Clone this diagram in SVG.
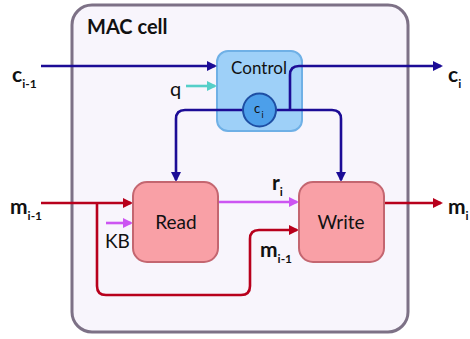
<svg xmlns="http://www.w3.org/2000/svg" width="470" height="339" viewBox="0 0 470 339">
<style>
.lbl{font-family:Lato,"Liberation Sans",sans-serif;font-weight:bold;fill:#111}
.sub{font-size:12px}
.big{font-size:21px}
.ntx{font-family:Lato,"Liberation Sans",sans-serif;fill:#111;text-anchor:middle}
.nv{fill:none;stroke:#1c0c96;stroke-width:2.6}
.rd{fill:none;stroke:#b8001c;stroke-width:2.6}
.mg{fill:none;stroke:#cc55f2;stroke-width:2.6}
.tl{fill:none;stroke:#55cfc8;stroke-width:2.6}
.rw{fill:#f9a0a6;stroke:#c46670;stroke-width:2}
</style>
<defs>
<marker id="aN" markerWidth="10" markerHeight="10" refX="8" refY="5" orient="auto" markerUnits="userSpaceOnUse"><path d="M0,0 L10,5 L0,10 z" fill="#1c0c96"/></marker>
<marker id="aR" markerWidth="10" markerHeight="10" refX="8" refY="5" orient="auto" markerUnits="userSpaceOnUse"><path d="M0,0 L10,5 L0,10 z" fill="#b8001c"/></marker>
<marker id="aM" markerWidth="10" markerHeight="10" refX="8" refY="5" orient="auto" markerUnits="userSpaceOnUse"><path d="M0,0 L10,5 L0,10 z" fill="#cc55f2"/></marker>
<marker id="aT" markerWidth="10" markerHeight="10" refX="8" refY="5" orient="auto" markerUnits="userSpaceOnUse"><path d="M0,0 L10,5 L0,10 z" fill="#55cfc8"/></marker>
</defs>
<g id="mac">
<rect x="72" y="5" width="336" height="327" rx="20" fill="#f8f5fc" stroke="#7d7186" stroke-width="3"/>
<text x="87" y="34" class="lbl" font-size="20">MAC cell</text>
</g>
<g id="control">
<rect x="217" y="51" width="85" height="80" rx="11" fill="#9ed0f8" stroke="#6fb0e6" stroke-width="2"/>
<text x="259" y="74" class="ntx" font-size="17">Control</text>
</g>
<g id="connectors">
<path class="nv" d="M41,66 H215" marker-end="url(#aN)"/>
<path class="tl" d="M186,86 H215" marker-end="url(#aT)"/>
<path class="nv" d="M243,110 H185 Q176,110 176,119 V180" marker-end="url(#aN)"/>
<path class="nv" d="M276,110 H332 Q341,110 341,119 V180" marker-end="url(#aN)"/>
<path class="nv" d="M290,110 V75 Q290,66 299,66 H441" marker-end="url(#aN)"/>
<path class="rd" d="M41,203 H131" marker-end="url(#aR)"/>
<path class="rd" d="M97,203 V286 Q97,295 106,295 H241 Q250,295 250,286 V239 Q250,230 259,230 H297" marker-end="url(#aR)"/>
<path class="mg" d="M106,223 H131" marker-end="url(#aM)"/>
<path class="mg" d="M218,202 H297" marker-end="url(#aM)"/>
<path class="rd" d="M384,203 H441" marker-end="url(#aR)"/>
</g>
<g id="ci-node">
<circle cx="259.5" cy="110" r="16.5" fill="#4c9fea" stroke="#1e4fa4" stroke-width="2"/>
<text x="257" y="113" class="ntx" font-size="13">c</text>
<text x="262.5" y="118" class="ntx" font-size="9">i</text>
</g>
<g id="read">
<rect class="rw" x="133" y="182" width="85" height="80" rx="14"/>
<text x="176" y="229" class="ntx" font-size="19">Read</text>
</g>
<g id="write">
<rect class="rw" x="299" y="182" width="85" height="80" rx="14"/>
<text x="341" y="229" class="ntx" font-size="19">Write</text>
</g>
<g id="labels">
<text x="12" y="82" class="lbl big">c<tspan class="sub" dy="6">i-1</tspan></text>
<text x="448" y="82" class="lbl big">c<tspan class="sub" dy="6">i</tspan></text>
<text x="10" y="214" class="lbl big">m<tspan class="sub" dy="6">i-1</tspan></text>
<text x="448" y="214" class="lbl big">m<tspan class="sub" dy="6">i</tspan></text>
<text x="260" y="257" class="lbl big">m<tspan class="sub" dy="6">i-1</tspan></text>
<text x="272" y="190" class="lbl big">r<tspan class="sub" dy="6">i</tspan></text>
<text x="170" y="96" font-family="Lato,'Liberation Sans',sans-serif" font-size="20" fill="#111">q</text>
<text x="105" y="248" font-family="Lato,'Liberation Sans',sans-serif" font-size="19" fill="#111">KB</text>
</g>
</svg>
